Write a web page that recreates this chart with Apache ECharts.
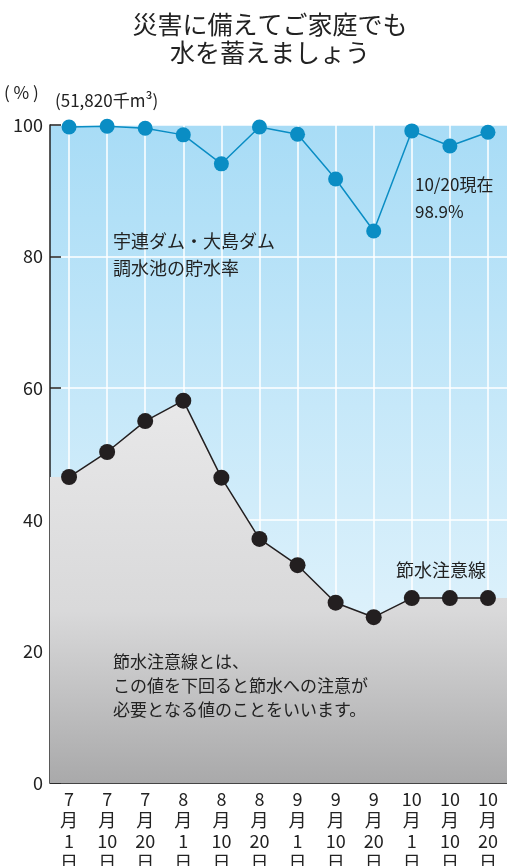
<!DOCTYPE html>
<html>
<head>
<meta charset="utf-8">
<script src="https://cdn.jsdelivr.net/npm/echarts@6/dist/echarts.min.js"></script>
<style>
  html, body { margin: 0; padding: 0; background: #fff; }
  #main { width: 507px; height: 866px; }
</style>
</head>
<body>
<div id="main"></div>
<script>
// 日付（月・日）
var months = [7, 7, 7, 8, 8, 8, 9, 9, 9, 10, 10, 10];
var days = [1, 10, 20, 1, 10, 20, 1, 10, 20, 1, 10, 20];
var categories = months.map(function (m, i) { return m + '月' + days[i] + '日'; });

// 宇連ダム・大島ダム調水池の貯水率（%）
var storageRate = [99.7, 99.8, 99.5, 98.5, 94.1, 99.7, 98.6, 91.8, 83.9, 99.1, 96.8, 98.9];
// 節水注意線（%）
var cautionLine = [46.5, 50.3, 55.0, 58.1, 46.4, 37.1, 33.1, 27.4, 25.2, 28.1, 28.1, 28.1];
// y軸目盛り
var yTicks = [0, 20, 40, 60, 80, 100];

var font = '"Noto Sans CJK JP", "Noto Sans", sans-serif';

// 灰色の面は左端から右端まで伸ばす
var cautionArea = [[0, cautionLine[0]]];
cautionLine.forEach(function (v, i) { cautionArea.push([i + 0.5, v]); });
cautionArea.push([categories.length, cautionLine[cautionLine.length - 1]]);

var myChart = echarts.init(document.getElementById('main'));
var option = {
    backgroundColor: '#fff',
    animation: false,
    grid: {
        left: 50,
        right: 0,
        top: 125,
        bottom: 83,
        outerBoundsMode: 'none',
        containLabel: false,
        show: true,
        borderWidth: 0,
        backgroundColor: new echarts.graphic.LinearGradient(0, 0, 0, 1, [
            { offset: 0, color: '#a8dcf6' },
            { offset: 1, color: '#eef8fd' }
        ])
    },
    xAxis: [{
        type: 'category',
        data: categories,
        boundaryGap: true,
        axisLine: { lineStyle: { color: '#444', width: 1 } },
        axisTick: { inside: true, length: 16, lineStyle: { color: '#333', width: 1 } },
        splitLine: { show: false },
        axisLabel: {
            margin: 6,
            color: '#222',
            fontSize: 18,
            lineHeight: 21,
            fontFamily: font,
            formatter: function (v, i) {
                return months[i] + '\n月\n' + days[i] + '\n日';
            }
        }
    }, {
        type: 'value',
        min: 0,
        max: categories.length,
        show: false
    }],
    yAxis: {
        type: 'value',
        min: 0,
        max: 100,
        interval: 20,
        axisLine: { show: true, lineStyle: { color: '#222', width: 1.5 } },
        axisTick: { show: true, inside: true, length: 11, lineStyle: { color: '#222', width: 1.5 } },
        axisLabel: {
            color: '#222',
            fontSize: 18,
            fontFamily: font,
            margin: 7,
            formatter: function (v) { return yTicks.indexOf(v) >= 0 ? v : ''; }
        },
        splitLine: { show: true, lineStyle: { color: '#fff', width: 1.5 } }
    },
    graphic: [
        {
            type: 'text', x: 270, y: 10,
            style: {
                text: '災害に備えてご家庭でも\n水を蓄えましょう',
                font: '25px ' + font, fill: '#222', textAlign: 'center', lineHeight: 28
            }
        },
        {
            type: 'text', x: 4, y: 84,
            style: { text: '( % )', font: '17px ' + font, fill: '#222' }
        },
        {
            type: 'text', x: 55, y: 92,
            style: { text: '(51,820千m³)', font: '17px ' + font, fill: '#222' }
        },
        {
            type: 'text', x: 113, y: 228, z: 10,
            style: {
                text: '宇連ダム・大島ダム\n調水池の貯水率',
                font: '18px ' + font, fill: '#222', lineHeight: 27
            }
        },
        {
            type: 'text', x: 415, y: 171, z: 10,
            style: {
                text: '10/20現在\n98.9%',
                font: '17px ' + font, fill: '#222', lineHeight: 27
            }
        },
        {
            type: 'text', x: 396, y: 561, z: 10,
            style: { text: '節水注意線', font: '18px ' + font, fill: '#222' }
        },
        {
            type: 'text', x: 113, y: 650, z: 10,
            style: {
                text: '節水注意線とは、\nこの値を下回ると節水への注意が\n必要となる値のことをいいます。',
                font: '17px ' + font, fill: '#222', lineHeight: 24
            }
        }
    ],
    series: [
        {
            // 縦の白い目盛線（各日付の位置）
            name: 'grid',
            type: 'line',
            z: 1,
            xAxisIndex: 1,
            data: [],
            silent: true,
            markLine: {
                z: 1,
                silent: true,
                symbol: 'none',
                label: { show: false },
                lineStyle: { color: '#fff', width: 1.5, type: 'solid' },
                data: categories.map(function (c, i) { return { xAxis: i + 0.5 }; })
            }
        },
        {
            name: '貯水率',
            type: 'line',
            z: 2,
            data: storageRate,
            symbol: 'circle',
            symbolSize: 15,
            itemStyle: { color: '#0a8dc4' },
            lineStyle: { color: '#0a8dc4', width: 1.5 }
        },
        {
            name: '節水注意線の面',
            type: 'line',
            z: 3,
            xAxisIndex: 1,
            data: cautionArea,
            symbol: 'none',
            lineStyle: { width: 0 },
            areaStyle: {
                opacity: 1,
                color: new echarts.graphic.LinearGradient(0, 0, 0, 1, [
                    { offset: 0, color: '#e8e8e9' },
                    { offset: 0.55, color: '#d9d9da' },
                    { offset: 1, color: '#a9a9aa' }
                ])
            }
        },
        {
            name: '節水注意線',
            type: 'line',
            z: 4,
            data: cautionLine,
            symbol: 'circle',
            symbolSize: 16,
            itemStyle: { color: '#231f20' },
            lineStyle: { color: '#231f20', width: 1.5 }
        }
    ]
};
myChart.setOption(option);
</script>
</body>
</html>
